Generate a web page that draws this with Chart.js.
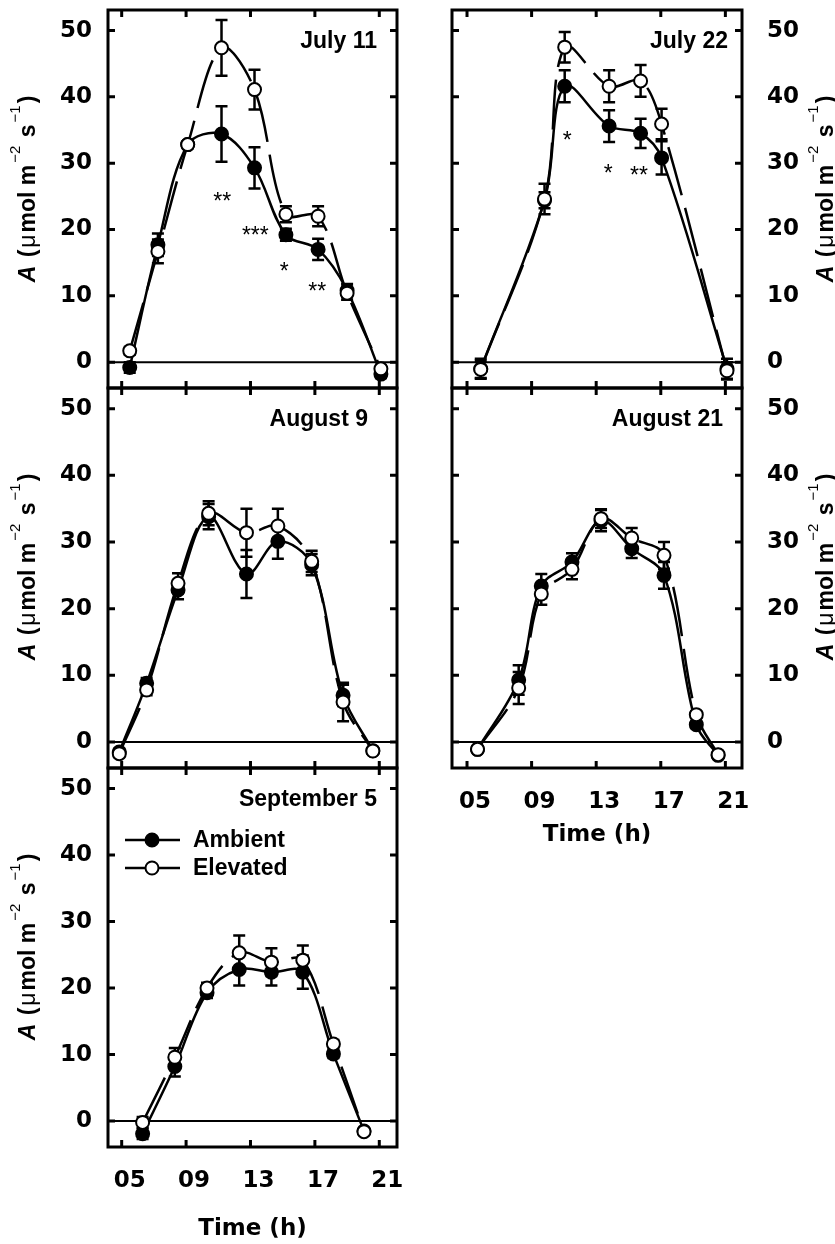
<!DOCTYPE html>
<html>
<head>
<meta charset="utf-8">
<script src="https://cdn.jsdelivr.net/npm/chart.js@4.4.0/dist/chart.umd.min.js"></script>
<style>
  html, body { margin: 0; padding: 0; background: #fff; }
  body { width: 835px; height: 1244px; position: relative; overflow: hidden; }
  canvas { position: absolute; left: 0; top: 0; }
</style>
</head>
<body>
<canvas id="jul11" width="835" height="1244"></canvas>
<canvas id="jul22" width="835" height="1244"></canvas>
<canvas id="aug9" width="835" height="1244"></canvas>
<canvas id="aug21" width="835" height="1244"></canvas>
<canvas id="sep5" width="835" height="1244"></canvas>
<script>
/******************* Data (net photosynthesis A, umol m-2 s-1) ***********************/
const TIME_TICKS = [5, 9, 13, 17, 21];
const A_TICKS = [0, 10, 20, 30, 40, 50];

// July 11
const hoursJul11 = [5.5, 7.25, 9.1, 11.2, 13.25, 15.2, 17.2, 19.0, 21.1];
const ambJul11 = [-0.8, 17.7, 32.8, 34.4, 29.3, 19.2, 17.0, 10.8, -1.8];
const ambErrJul11 = [0.8, 1.7, 0.5, 4.2, 3.1, 0.9, 1.6, 1.0, 0.6];
const elvJul11 = [1.7, 16.7, 32.8, 47.4, 41.1, 22.3, 22.0, 10.4, -1.0];
const elvErrJul11 = [0.6, 1.8, 0.5, 4.2, 3.0, 1.2, 1.5, 1.0, 0.5];
const sigHoursJul11 = [11.25, 13.3, 15.1, 17.15];
const sigValuesJul11 = [25.0, 20.0, 14.5, 11.5];
const sigLabelsJul11 = ['**', '***', '*', '**'];

// July 22
const hoursJul22 = [5.85, 9.8, 11.05, 13.8, 15.75, 17.05, 21.1];
const ambJul22 = [-1.0, 24.4, 41.6, 35.6, 34.5, 30.8, -1.0];
const ambErrJul22 = [1.5, 1.2, 2.4, 2.4, 2.2, 2.5, 1.5];
const elvJul22 = [-1.1, 24.6, 47.5, 41.6, 42.4, 35.9, -1.3];
const elvErrJul22 = [1.3, 2.3, 2.3, 2.4, 2.4, 2.3, 1.3];
const sigHoursJul22 = [11.2, 13.75, 15.65];
const sigValuesJul22 = [34.2, 29.2, 28.9];
const sigLabelsJul22 = ['*', '*', '**'];

// August 9
const hoursAug9 = [4.85, 6.55, 8.5, 10.4, 12.75, 14.7, 16.8, 18.75, 20.6];
const ambAug9 = [-1.5, 8.8, 22.8, 33.8, 25.2, 30.1, 26.6, 7.0, -1.3];
const ambErrAug9 = [0.5, 0.8, 1.4, 1.9, 3.6, 2.6, 1.6, 1.6, 0.4];
const elvAug9 = [-1.75, 7.8, 23.8, 34.3, 31.4, 32.4, 27.1, 6.0, -1.35];
const elvErrAug9 = [0.5, 0.8, 1.5, 1.8, 3.6, 2.6, 1.6, 2.9, 0.4];

// August 21
const hoursAug21 = [5.65, 8.2, 9.6, 11.5, 13.3, 15.2, 17.2, 19.2, 20.55];
const ambAug21 = [-1.1, 9.3, 23.4, 27.0, 33.2, 29.0, 25.0, 2.6, -2.0];
const ambErrAug21 = [0.4, 2.2, 1.8, 1.3, 1.6, 1.4, 2.0, 0.5, 0.5];
const elvAug21 = [-1.1, 8.1, 22.2, 25.9, 33.5, 30.6, 28.0, 4.1, -1.9];
const elvErrAug21 = [0.4, 2.4, 1.6, 1.5, 1.4, 1.5, 2.0, 0.5, 0.4];

// September 5
const hoursSep5 = [6.3, 8.3, 10.3, 12.3, 14.3, 16.25, 18.15, 20.05];
const ambSep5 = [-1.9, 8.2, 19.3, 22.8, 22.4, 22.4, 10.1, -1.5];
const ambErrSep5 = [0.8, 1.5, 0.8, 2.4, 2.0, 2.5, 0.6, 0.4];
const elvSep5 = [-0.2, 9.6, 20.0, 25.3, 23.9, 24.2, 11.6, -1.6];
const elvErrSep5 = [0.8, 1.4, 0.8, 2.6, 2.1, 2.2, 0.6, 0.4];

/******************* Layout / style ***********************/
const TICK_FONT = {family: "'DejaVu Sans', sans-serif", size: 23, weight: 'bold'};
const TEXT_FAMILY = "'Liberation Sans', Arial, sans-serif";
const X_AXIS_H = 97;
const Y_AXIS_W = 75;

const panels = [
  {id: 'jul11', title: 'July 11', titleInset: 20, side: 'left', xLabels: false,
   box: {left: 108, top: 10, right: 397, bottom: 388},
   hours: hoursJul11, amb: ambJul11, ambErr: ambErrJul11, elv: elvJul11, elvErr: elvErrJul11,
   sigHours: sigHoursJul11, sigValues: sigValuesJul11, sigLabels: sigLabelsJul11},
  {id: 'jul22', title: 'July 22', titleInset: 14, side: 'right', xLabels: false,
   box: {left: 452, top: 10, right: 742, bottom: 388},
   hours: hoursJul22, amb: ambJul22, ambErr: ambErrJul22, elv: elvJul22, elvErr: elvErrJul22,
   sigHours: sigHoursJul22, sigValues: sigValuesJul22, sigLabels: sigLabelsJul22},
  {id: 'aug9', title: 'August 9', titleInset: 29, side: 'left', xLabels: false,
   box: {left: 108, top: 388, right: 397, bottom: 768},
   hours: hoursAug9, amb: ambAug9, ambErr: ambErrAug9, elv: elvAug9, elvErr: elvErrAug9},
  {id: 'aug21', title: 'August 21', titleInset: 19, side: 'right', xLabels: true, xTitlePad: 16,
   box: {left: 452, top: 388, right: 742, bottom: 768},
   hours: hoursAug21, amb: ambAug21, ambErr: ambErrAug21, elv: elvAug21, elvErr: elvErrAug21},
  {id: 'sep5', title: 'September 5', titleInset: 20, side: 'left', xLabels: true, xTitlePad: 1, legend: true,
   box: {left: 108, top: 768, right: 397, bottom: 1147},
   hours: hoursSep5, amb: ambSep5, ambErr: ambErrSep5, elv: elvSep5, elvErr: elvErrSep5}
];

// y axis title pieces: A (umol m-2 s-1)
const Y_TITLE = [
  {text: 'A', font: 'italic bold 23px ' + TEXT_FAMILY, rise: 0},
  {text: ' (', font: 'bold 23px ' + TEXT_FAMILY, rise: 0},
  {text: 'μ', font: '23px ' + TEXT_FAMILY, rise: 0},
  {text: 'mol m', font: 'bold 23px ' + TEXT_FAMILY, rise: 0},
  {text: '−2', font: '15px ' + TEXT_FAMILY, rise: 15},
  {text: ' s', font: 'bold 23px ' + TEXT_FAMILY, rise: 0},
  {text: '−1', font: '15px ' + TEXT_FAMILY, rise: 15},
  {text: ')', font: 'bold 23px ' + TEXT_FAMILY, rise: 0}
];

function drawYTitle(ctx, x, y) {
  ctx.save();
  ctx.translate(x, y);
  ctx.rotate(-Math.PI / 2);
  ctx.fillStyle = '#000';
  ctx.textBaseline = 'alphabetic';
  ctx.textAlign = 'left';
  let total = 0;
  Y_TITLE.forEach(p => { ctx.font = p.font; total += ctx.measureText(p.text).width + 2; });
  let cx = -total / 2;
  Y_TITLE.forEach(p => {
    ctx.font = p.font;
    ctx.fillText(p.text, cx, -p.rise);
    cx += ctx.measureText(p.text).width + 2;
  });
  ctx.restore();
}

function makeDecor(panel) {
  return {
    id: 'decor_' + panel.id,
    beforeDatasetsDraw(chart) {
      const {ctx, chartArea: a, scales: {x, y}} = chart;
      ctx.save();
      // zero line
      ctx.strokeStyle = '#000';
      ctx.lineWidth = 2;
      ctx.beginPath();
      ctx.moveTo(a.left, y.getPixelForValue(0));
      ctx.lineTo(a.right, y.getPixelForValue(0));
      ctx.stroke();
      // error bars
      ctx.lineWidth = 2.5;
      chart.data.datasets.forEach(ds => {
        ds.data.forEach((pt, i) => {
          const px = x.getPixelForValue(pt.x);
          const lo = y.getPixelForValue(pt.y - ds.err[i]);
          const hi = y.getPixelForValue(pt.y + ds.err[i]);
          ctx.beginPath();
          ctx.moveTo(px, lo); ctx.lineTo(px, hi);
          ctx.moveTo(px - 6, lo); ctx.lineTo(px + 6, lo);
          ctx.moveTo(px - 6, hi); ctx.lineTo(px + 6, hi);
          ctx.stroke();
        });
      });
      ctx.restore();
    },
    afterDraw(chart) {
      const {ctx, chartArea: a, scales: {x, y}} = chart;
      ctx.save();
      ctx.strokeStyle = '#000';
      ctx.fillStyle = '#000';
      // frame
      ctx.lineWidth = 3;
      ctx.strokeRect(a.left, a.top, a.right - a.left, a.bottom - a.top);
      // inward ticks on all four sides
      const TL = 7;
      ctx.beginPath();
      A_TICKS.forEach(v => {
        const py = y.getPixelForValue(v);
        ctx.moveTo(a.left, py); ctx.lineTo(a.left + TL, py);
        ctx.moveTo(a.right, py); ctx.lineTo(a.right - TL, py);
      });
      TIME_TICKS.forEach(v => {
        const px = x.getPixelForValue(v);
        ctx.moveTo(px, a.top); ctx.lineTo(px, a.top + TL);
        ctx.moveTo(px, a.bottom); ctx.lineTo(px, a.bottom - TL);
      });
      ctx.stroke();
      // panel title
      ctx.font = 'bold 23px ' + TEXT_FAMILY;
      ctx.textAlign = 'right';
      ctx.textBaseline = 'middle';
      ctx.fillText(panel.title, a.right - panel.titleInset, a.top + 32);
      // significance marks
      if (panel.sigHours) {
        ctx.font = '23px ' + TEXT_FAMILY;
        ctx.textAlign = 'center';
        ctx.textBaseline = 'alphabetic';
        panel.sigHours.forEach((h, i) => {
          ctx.fillText(panel.sigLabels[i], x.getPixelForValue(h), y.getPixelForValue(panel.sigValues[i]) + 13);
        });
      }
      // legend
      if (panel.legend) {
        const order = [1, 0];
        order.forEach((di, k) => {
          const ds = chart.data.datasets[di];
          const ly = a.top + 72 + k * 28;
          ctx.lineWidth = 2.5;
          ctx.setLineDash([]);
          ctx.beginPath();
          ctx.moveTo(a.left + 17, ly); ctx.lineTo(a.left + 72, ly);
          ctx.stroke();
          ctx.beginPath();
          ctx.arc(a.left + 44, ly, 6.5, 0, Math.PI * 2);
          ctx.fillStyle = ds.pointBackgroundColor;
          ctx.fill();
          ctx.lineWidth = 2;
          ctx.stroke();
          ctx.fillStyle = '#000';
          ctx.font = 'bold 23px ' + TEXT_FAMILY;
          ctx.textAlign = 'left';
          ctx.textBaseline = 'middle';
          ctx.fillText(ds.label, a.left + 85, ly + 1);
        });
      }
      ctx.restore();
      // y axis title
      if (panel.side === 'left') drawYTitle(ctx, a.left - 73, a.top + 178);
      else drawYTitle(ctx, a.right + 91, a.top + 178);
    }
  };
}

function toPoints(hours, vals) {
  return hours.map((h, i) => ({x: h, y: vals[i]}));
}

panels.forEach(panel => {
  const b = panel.box;
  const xH = panel.xLabels ? X_AXIS_H : 0;
  const padRight = panel.side === 'right' ? 835 - b.right - Y_AXIS_W : 835 - b.right;
  const padLeft = panel.side === 'left' ? b.left - Y_AXIS_W : b.left;
  const config = {
    type: 'line',
    data: {
      datasets: [
        {
          label: 'Elevated',
          data: toPoints(panel.hours, panel.elv),
          err: panel.elvErr,
          borderColor: '#000',
          borderWidth: 2.5,
          borderDash: [50, 13],
          tension: 0.35,
          pointRadius: 6.5,
          pointBorderWidth: 2,
          pointBorderColor: '#000',
          pointBackgroundColor: '#fff'
        },
        {
          label: 'Ambient',
          data: toPoints(panel.hours, panel.amb),
          err: panel.ambErr,
          borderColor: '#000',
          borderWidth: 2.5,
          tension: 0.35,
          pointRadius: 6.5,
          pointBorderWidth: 2,
          pointBorderColor: '#000',
          pointBackgroundColor: '#000'
        }
      ]
    },
    options: {
      responsive: false,
      animation: false,
      layout: {
        padding: {left: padLeft, top: b.top, right: padRight, bottom: 1244 - b.bottom - xH}
      },
      plugins: {
        legend: {display: false},
        tooltip: {enabled: false},
        title: {display: false}
      },
      scales: {
        x: {
          type: 'linear',
          position: 'bottom',
          min: panel.side === 'right' ? 4.07 : 4.15,
          max: panel.side === 'right' ? 22.03 : 22.1,
          afterBuildTicks: s => { s.ticks = TIME_TICKS.map(v => ({value: v})); },
          afterFit: s => { s.height = xH; s.paddingLeft = 0; s.paddingRight = 0; },
          grid: {display: false, drawTicks: false},
          border: {display: false},
          ticks: {
            display: panel.xLabels,
            color: '#000',
            font: TICK_FONT,
            padding: 20,
            labelOffset: 8,
            maxRotation: 0,
            callback: v => String(v).padStart(2, '0')
          },
          title: {
            display: panel.xLabels,
            text: 'Time (h)',
            color: '#000',
            font: TICK_FONT,
            padding: {top: 0, bottom: panel.xTitlePad || 0}
          }
        },
        y: {
          position: panel.side,
          min: -3.9,
          max: 53.1,
          afterBuildTicks: s => { s.ticks = A_TICKS.map(v => ({value: v})); },
          afterFit: s => { s.width = Y_AXIS_W; s.paddingTop = 0; s.paddingBottom = 0; },
          grid: {display: false, drawTicks: false},
          border: {display: false},
          ticks: {
            color: '#000',
            font: TICK_FONT,
            padding: panel.side === 'left' ? 16 : 25
          }
        }
      }
    },
    plugins: [makeDecor(panel)]
  };
  new Chart(document.getElementById(panel.id), config);
});
</script>
</body>
</html>
